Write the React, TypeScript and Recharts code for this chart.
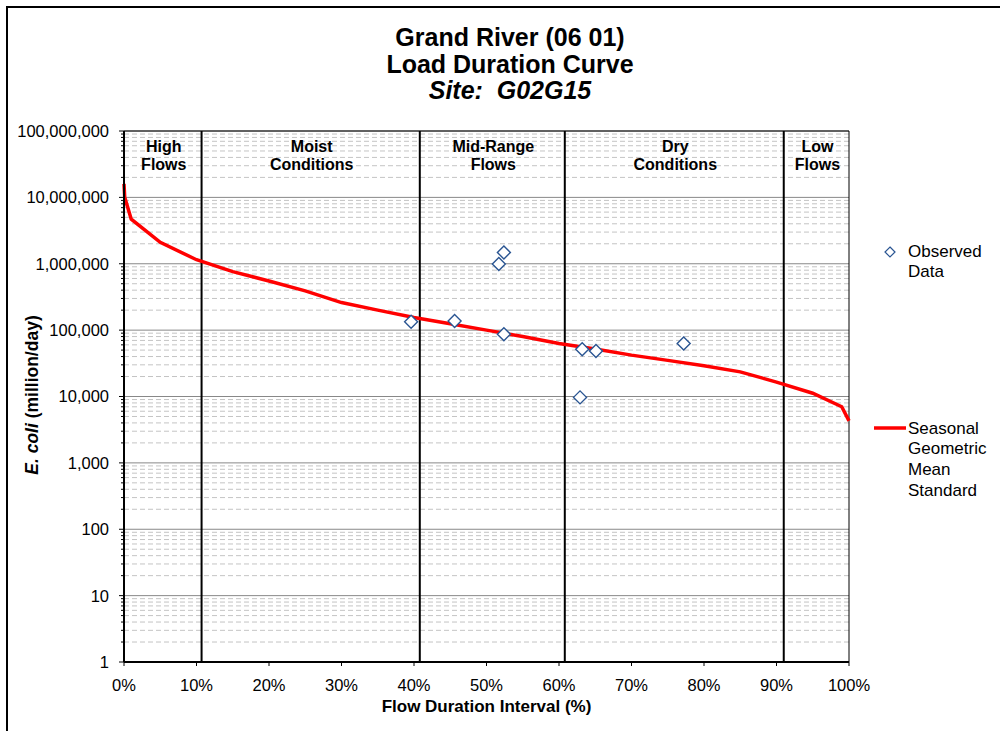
import React from 'react';
import {
  ComposedChart,
  Line,
  Scatter,
  XAxis,
  YAxis,
  CartesianGrid,
  ReferenceLine,
  ReferenceArea,
  Legend,
} from 'recharts';

const FONT = '"Liberation Sans", Arial, Helvetica, sans-serif';

// flow duration interval (%) and the seasonal geometric mean standard load (million/day)
const durationPct = [0, 0.1, 1, 5, 10, 15, 20, 25, 30, 35, 40, 45, 50, 55, 60, 65, 70, 75, 80, 85, 90, 95, 99, 100];
const standardLoad = [
  1.6e7, 1.0e7, 4.7e6, 2.1e6, 1.15e6, 7.6e5, 5.5e5, 3.9e5, 2.6e5, 2.0e5, 1.55e5, 1.25e5,
  1.0e5, 8.0e4, 6.3e4, 5.2e4, 4.2e4, 3.5e4, 2.9e4, 2.35e4, 1.65e4, 1.12e4, 7.0e3, 4.3e3,
];

// observed samples
const observedPct = [39.6, 45.6, 51.7, 52.4, 52.4, 62.9, 63.2, 65.1, 77.2];
const observedLoad = [1.34e5, 1.37e5, 9.9e5, 1.48e6, 8.7e4, 9.7e3, 5.15e4, 4.85e4, 6.3e4];

const xTicks = [0, 10, 20, 30, 40, 50, 60, 70, 80, 90, 100];
const yTicks = [1, 10, 100, 1000, 10000, 100000, 1000000, 10000000, 100000000];

// flow zones
const zoneEdges = [0, 10.7, 40.8, 60.8, 91, 100];
const zoneNames = [
  ['High', 'Flows'],
  ['Moist', 'Conditions'],
  ['Mid-Range', 'Flows'],
  ['Dry', 'Conditions'],
  ['Low', 'Flows'],
];

const curveData = durationPct.map((x, i) => ({ x, y: standardLoad[i] }));
const observedData = observedPct.map((x, i) => ({ x, y: observedLoad[i] }));
const minorValues = yTicks.slice(0, -1).flatMap(d => [2, 3, 4, 5, 6, 7, 8, 9].map(m => d * m));
const allYTicks = [...yTicks, ...minorValues].sort((a, b) => a - b);

function Diamond({ cx, cy, r = 6.5 }: any) {
  if (cx == null || cy == null) return null;
  return (
    <polygon
      points={`${cx},${cy - r} ${cx + r},${cy} ${cx},${cy + r} ${cx - r},${cy}`}
      fill="#fff"
      stroke="#2a5592"
      strokeWidth={1.4}
    />
  );
}

function YTick({ x, y, payload }: any) {
  const major = yTicks.includes(payload.value);
  const axisX = x + 15;
  return (
    <g>
      <line x1={axisX - (major ? 5 : 3)} x2={axisX} y1={y} y2={y} stroke="#000" strokeWidth={1} />
      {major && (
        <text x={x} y={y} dy="0.36em" textAnchor="end" fontFamily={FONT} fontSize={16.5} fill="#000">
          {payload.value.toLocaleString('en-US')}
        </text>
      )}
    </g>
  );
}

function ZoneLabel({ viewBox, lines }: any) {
  const cx = viewBox.x + viewBox.width / 2 + 1;
  return (
    <text textAnchor="middle" fontFamily={FONT} fontSize={16} fontWeight="bold" fill="#000">
      {lines.map((t: string, i: number) => (
        <tspan key={i} x={cx} y={viewBox.y + 21 + i * 18}>
          {t}
        </tspan>
      ))}
    </text>
  );
}

function XLabel({ viewBox }: any) {
  return (
    <text x={viewBox.x + viewBox.width / 2} y={712} textAnchor="middle" fontFamily={FONT} fontSize={17} fontWeight="bold" fill="#000">
      Flow Duration Interval (%)
    </text>
  );
}

function YLabel() {
  return (
    <text x={38} y={395} transform="rotate(-90, 38, 395)" textAnchor="middle" fontFamily={FONT} fontSize={17.5} fontWeight="bold" fill="#000">
      <tspan fontStyle="italic">E. coli</tspan> (million/day)
    </text>
  );
}

function LegendBox() {
  return (
    <div style={{ position: 'relative', width: 130, height: 270, fontFamily: FONT, fontSize: 17, color: '#000', lineHeight: '20.7px' }}>
      <svg style={{ position: 'absolute', left: 10, top: 6 }} width={12} height={12}>
        <polygon points="6,1 11,6 6,11 1,6" fill="#fff" stroke="#2a5592" strokeWidth={1.2} />
      </svg>
      <div style={{ position: 'absolute', left: 34, top: 1.5 }}>
        Observed
        <br />
        Data
      </div>
      <svg style={{ position: 'absolute', left: 0, top: 185 }} width={32} height={6}>
        <line x1={0} x2={32} y1={3} y2={3} stroke="#ff0000" strokeWidth={3.5} />
      </svg>
      <div style={{ position: 'absolute', left: 34, top: 178.5 }}>
        Seasonal
        <br />
        Geometric
        <br />
        Mean
        <br />
        Standard
      </div>
    </div>
  );
}

export default function App() {
  return (
    <div style={{ position: 'absolute', left: 0, top: 0, width: 1000, height: 731, overflow: 'hidden', background: '#fff' }}>
      <div style={{ position: 'absolute', left: 6, top: 6, width: 1100, height: 900, borderLeft: '2px solid #000', borderTop: '2px solid #000' }} />
      <svg style={{ position: 'absolute', left: 0, top: 0 }} width={1000} height={120}>
        <g textAnchor="middle" fontFamily={FONT} fontSize={25} fontWeight="bold" fill="#000">
          <text x={510} y={46}>Grand River (06 01)</text>
          <text x={510} y={72.5}>Load Duration Curve</text>
          <text x={510} y={99} fontStyle="italic" style={{ whiteSpace: 'pre' }}>
            {'Site:  G02G15'}
          </text>
        </g>
      </svg>
      <div style={{ position: 'absolute', left: 0, top: 0 }}>
        <ComposedChart width={1000} height={731} margin={{ top: 131, right: 151, bottom: 39, left: 64 }}>
          <CartesianGrid horizontalValues={minorValues} vertical={false} stroke="#c4c4c4" strokeDasharray="5 3" />
          <CartesianGrid horizontalValues={yTicks} vertical={false} stroke="#888" />
          <XAxis
            type="number"
            dataKey="x"
            domain={[0, 100]}
            ticks={xTicks}
            interval={0}
            tickFormatter={v => `${v}%`}
            height={30}
            tickSize={4}
            tickMargin={13}
            axisLine={{ stroke: '#000', strokeWidth: 2 }}
            tickLine={{ stroke: '#000' }}
            tick={{ fill: '#000', fontSize: 16.5, fontFamily: FONT }}
            label={<XLabel />}
          />
          <YAxis
            type="number"
            dataKey="y"
            scale="log"
            domain={[1, 1e8]}
            allowDataOverflow
            ticks={allYTicks}
            interval={0}
            width={60}
            tickSize={5}
            tickMargin={10}
            tickLine={false}
            axisLine={{ stroke: '#000', strokeWidth: 2 }}
            tick={<YTick />}
            label={<YLabel />}
          />
          <ReferenceLine y={1e8} stroke="#000" strokeWidth={1} />
          <ReferenceLine x={100} stroke="#000" strokeWidth={1} />
          {zoneEdges.slice(1, -1).map(v => (
            <ReferenceLine key={v} x={v} stroke="#000" strokeWidth={2} />
          ))}
          {zoneNames.map((lines, i) => (
            <ReferenceArea
              key={i}
              x1={zoneEdges[i]}
              x2={zoneEdges[i + 1]}
              y1={1}
              y2={1e8}
              fillOpacity={0}
              strokeOpacity={0}
              label={<ZoneLabel lines={lines} />}
            />
          ))}
          <Legend layout="horizontal" verticalAlign="middle" align="center" content={<LegendBox />} wrapperStyle={{ position: 'absolute', left: 874, top: 240, width: 130 }} />
          <Line
            data={curveData}
            dataKey="y"
            name="Seasonal Geometric Mean Standard"
            type="linear"
            stroke="#ff0000"
            strokeWidth={3.5}
            dot={false}
            activeDot={false}
            isAnimationActive={false}
          />
          <Scatter data={observedData} dataKey="y" name="Observed Data" shape={<Diamond />} isAnimationActive={false} />
        </ComposedChart>
      </div>
    </div>
  );
}
